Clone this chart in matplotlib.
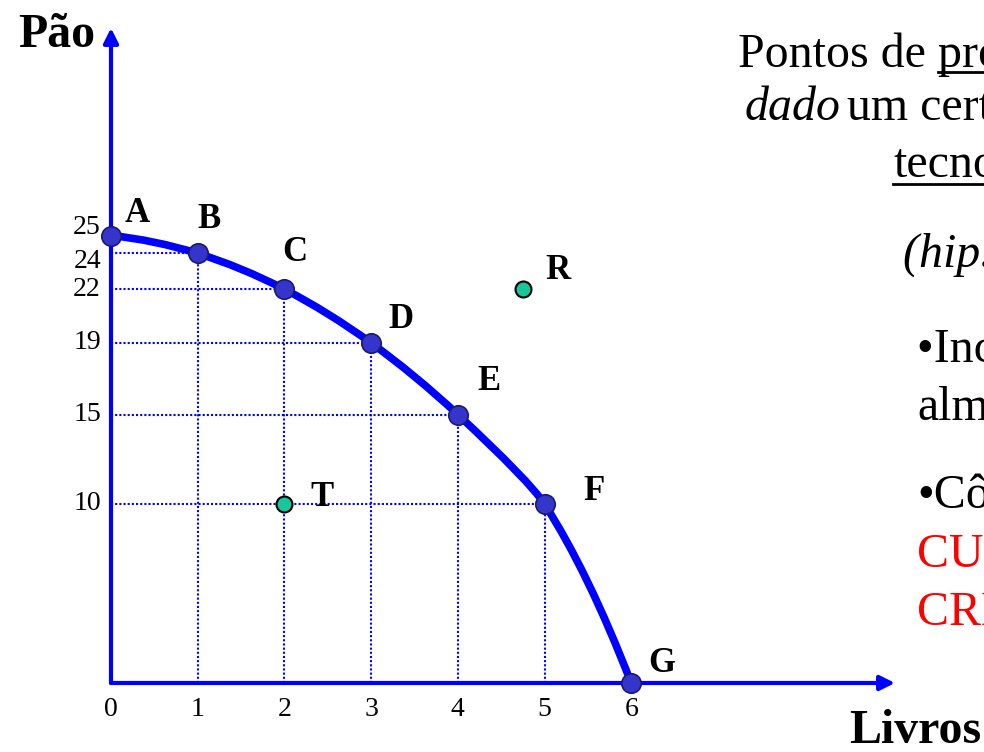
import matplotlib
matplotlib.use('Agg')
import matplotlib.pyplot as plt
from matplotlib.path import Path
from matplotlib.patches import PathPatch
from matplotlib.lines import Line2D

plt.rcParams['font.family'] = ['Liberation Serif', 'DejaVu Serif']

# ---- data ----
point_labels = ['A', 'B', 'C', 'D', 'E', 'F', 'G']
livros = [0, 1, 2, 3, 4, 5, 6]
pao = [25, 24, 22, 19, 15, 10, 0]
extra_labels = ['R', 'T']
extra_livros = [4.75, 2]
extra_pao = [22, 10]
x_ticks = [0, 1, 2, 3, 4, 5, 6]
y_ticks = [25, 24, 22, 19, 15, 10]

# ---- layout (pixels) ----
W, H = 984, 752
X0, Y0 = 111, 683          # origin pixel
SX, SY = 86.7, 17.9        # pixels per unit
XTIP, YTIP = 895, 28       # arrow tips

fig = plt.figure(figsize=(W / 100, H / 100), dpi=100)
ax = fig.add_axes([X0 / W, (H - Y0) / H, (XTIP - X0) / W, (Y0 - YTIP) / H])
ax.set_xlim(0, (XTIP - X0) / SX)
ax.set_ylim(0, (Y0 - YTIP) / SY)
ax.axis('off')

BLUE = '#0000FF'

# axes arrows
for tip in [(1, 0), (0, 1)]:
    ax.annotate('', xy=tip, xytext=(0, 0), xycoords='axes fraction',
                arrowprops=dict(arrowstyle='-|>', color=BLUE, lw=3, mutation_scale=22,
                                shrinkA=0, shrinkB=0), annotation_clip=False)

# dotted guide lines
for x, y in zip(livros, pao):
    if x > 0 and y > 0:
        ax.plot([0, x], [y, y], color=BLUE, lw=1.5, ls=(0, (1, 1)), zorder=2)
        ax.plot([x, x], [0, y], color=BLUE, lw=1.5, ls=(0, (1, 1)), zorder=2)

# smooth concave frontier through the points (quadratic Bezier segments,
# tangent at each point = mean of adjacent chord slopes)
n = len(livros)
chords = [(pao[i + 1] - pao[i]) / (livros[i + 1] - livros[i]) for i in range(n - 1)]
tang = [0.0] * n
for i in range(1, n - 1):
    tang[i] = (chords[i - 1] + chords[i]) / 2
tang[0] = chords[0] - (tang[1] - chords[0])
tang[-1] = chords[-1] - (tang[-2] - chords[-1])
verts = [(livros[0], pao[0])]
codes = [Path.MOVETO]
for i in range(n - 1):
    x1, y1, m1 = livros[i], pao[i], tang[i]
    x2, y2, m2 = livros[i + 1], pao[i + 1], tang[i + 1]
    cx = (y2 - y1 + m1 * x1 - m2 * x2) / (m1 - m2)
    cy = y1 + m1 * (cx - x1)
    verts += [(cx, cy), (x2, y2)]
    codes += [Path.CURVE3, Path.CURVE3]
ax.add_patch(PathPatch(Path(verts, codes), fill=False, edgecolor=BLUE, lw=5.5,
                       capstyle='round', zorder=3, clip_on=False))

# points
ax.plot(livros, pao, 'o', ms=14, mfc='#3535CC', mec='#1a1a70', mew=1.2,
        zorder=5, clip_on=False)
ax.plot(extra_livros, extra_pao, 'o', ms=11.5, mfc='#17C79A', mec='#000000',
        mew=1.5, zorder=5, clip_on=False)

label_offsets = {'A': (26, 22), 'B': (11, 34), 'C': (10, 37), 'D': (30, 23),
                 'E': (31, 33), 'F': (50, 12), 'G': (31, 20), 'R': (35, 19),
                 'T': (38, 7)}
for lab, x, y in zip(point_labels + extra_labels, livros + extra_livros, pao + extra_pao):
    ax.annotate(lab, xy=(x, y), xytext=label_offsets[lab], textcoords='offset pixels',
                ha='center', va='center', fontsize=25, fontweight='bold',
                annotation_clip=False)

# tick labels
for t in x_ticks:
    ax.annotate(str(t), xy=(t, 0), xytext=(0, -26), textcoords='offset pixels',
                ha='center', va='center', fontsize=20, annotation_clip=False)
ytick_shift = {25: 8, 24: -8}
for t in y_ticks:
    ax.annotate(str(t), xy=(0, t), xytext=(-10, ytick_shift.get(t, 0)),
                textcoords='offset pixels', ha='right', va='center', fontsize=20,
                annotation_clip=False)

# axis titles
def ftext(px, py, s, **kw):
    fig.text(px / W, 1 - py / H, s, va='baseline', ha='left', **kw)

ftext(18, 47, 'Pão', fontsize=34.5, fontweight='bold')
ftext(849, 743, 'Livros', fontsize=34.5, fontweight='bold')

# right-hand text (cut by figure edge, as in the reference)
FS = 34.5
ftext(738, 67, 'Pontos de', fontsize=FS)
ftext(938, 67, 'produção possíveis,', fontsize=FS)
ftext(745, 120, 'dado', fontsize=FS, fontstyle='italic')
ftext(847, 120, 'um certo nível de', fontsize=FS)
ftext(893, 177, 'tecnologia', fontsize=FS)
ftext(903, 267, '(hip. ceteris paribus)', fontsize=FS, fontstyle='italic')
ftext(917, 362, '•Incremento de', fontsize=FS)
ftext(917, 420, 'almoços', fontsize=FS)
ftext(917, 508, '•Côncava:', fontsize=FS)
ftext(917, 567, 'CUSTO', fontsize=FS, color='#FF0000')
ftext(917, 625, 'CRESCENTE', fontsize=FS, color='#FF0000')

# underlines
for (xa, xb, yy) in [(938, 984, 72), (893, 984, 184)]:
    fig.add_artist(Line2D([xa / W, xb / W], [1 - yy / H, 1 - yy / H],
                          transform=fig.transFigure, color='black', lw=2))

fig.savefig('out.png', dpi=100)
